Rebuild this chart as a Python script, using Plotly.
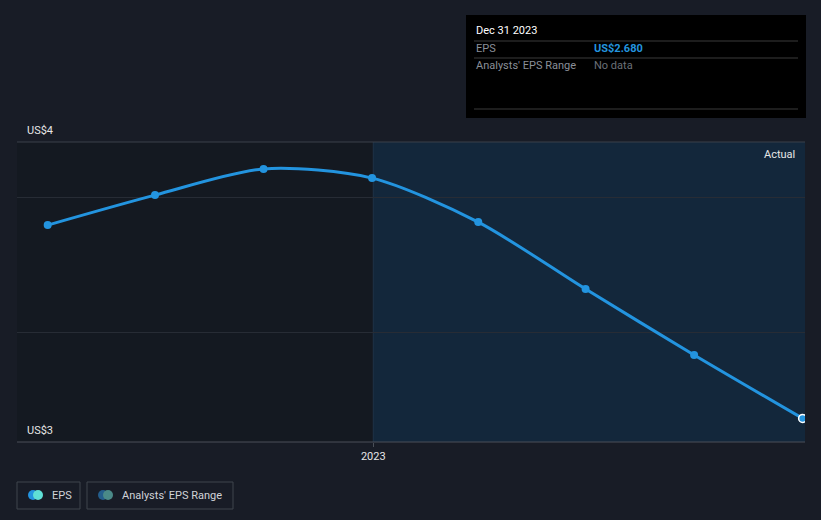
import plotly.graph_objects as go

# ---- data ----
dates = ["2022-03-31", "2022-06-30", "2022-09-30", "2022-12-31",
         "2023-03-31", "2023-06-30", "2023-09-30", "2023-12-31"]
eps = [3.396, 3.507, 3.604, 3.570, 3.407, 3.159, 2.915, 2.680]
y_tick_vals = [3.0, 3.5]
y_labels = ["US$4", "US$3"]
x_tick_vals = ["2023-01-01"]
x_tick_text = ["2023"]

W, H = 821, 520
L, R, T, B = 17, 805, 142, 442
y0, y1 = 2.5926, 3.7037
x0, x1 = "2022-03-05", "2024-01-02"

def px(x):
    return (x - L) / (R - L)

def py(y):
    return (B - y) / (B - T)

BLUE = "#2394df"
FONT = "Roboto, Arial, sans-serif"

fig = go.Figure()

fig.add_trace(go.Scatter(
    x=dates, y=eps, mode="lines+markers",
    line=dict(color=BLUE, width=3, shape="spline", smoothing=0.8),
    marker=dict(size=8, color=BLUE,
                line=dict(color=[BLUE] * (len(eps) - 1) + ["#ffffff"], width=[0] * (len(eps) - 1) + [1.5])),
    cliponaxis=True, hoverinfo="skip", showlegend=False,
))

shapes = []
# forecast/actual shaded region
shapes.append(dict(type="rect", xref="x", yref="paper", x0="2023-01-01", x1=x1, y0=0, y1=1,
                   fillcolor="#13273b", line=dict(width=0), layer="below"))
# vertical divider
shapes.append(dict(type="line", xref="x", yref="paper", x0="2023-01-01", x1="2023-01-01", y0=0, y1=1,
                   line=dict(color="#1f3347", width=1), layer="below"))
# top line
shapes.append(dict(type="line", xref="paper", yref="paper", x0=0, x1=1, y0=1, y1=1,
                   line=dict(color="#3a404a", width=1)))
# bottom axis line
shapes.append(dict(type="line", xref="paper", yref="paper", x0=0, x1=1, y0=0, y1=0,
                   line=dict(color="#4a4f58", width=1)))

# tooltip box
shapes.append(dict(type="rect", xref="paper", yref="paper", x0=px(466), x1=px(806), y0=py(118), y1=py(15),
                   fillcolor="#000000", line=dict(width=0)))
for yy in [41, 58, 109]:
    shapes.append(dict(type="line", xref="paper", yref="paper", x0=px(474), x1=px(798), y0=py(yy), y1=py(yy),
                       line=dict(color="#3a3a3a", width=1)))

# legend boxes
shapes.append(dict(type="rect", xref="paper", yref="paper", x0=px(17), x1=px(80), y0=py(509), y1=py(482),
                   line=dict(color="#3f444d", width=1), fillcolor="rgba(0,0,0,0)"))
shapes.append(dict(type="rect", xref="paper", yref="paper", x0=px(87), x1=px(233), y0=py(509), y1=py(482),
                   line=dict(color="#3f444d", width=1), fillcolor="rgba(0,0,0,0)"))

def circle(cx, cy, r, color):
    return dict(type="circle", xref="paper", yref="paper", x0=px(cx - r), x1=px(cx + r),
                y0=py(cy + r), y1=py(cy - r), fillcolor=color, line=dict(width=0))

shapes.append(circle(33, 495, 5, BLUE))
shapes.append(circle(38, 495, 5, "#5fe0d6"))
shapes.append(circle(103, 495, 5, "#245e8c"))
shapes.append(circle(108, 495, 5, "#4a8a88"))

annotations = []
def txt(x, y, s, color, size=11, anchor="left", bold=False):
    annotations.append(dict(xref="paper", yref="paper", x=px(x), y=py(y), text=("<b>%s</b>" % s) if bold else s,
                            showarrow=False, xanchor=anchor, yanchor="middle",
                            font=dict(family=FONT, size=size, color=color)))

txt(25, 130, y_labels[0], "#e6e6e6", 11)
txt(25, 430, y_labels[1], "#e6e6e6", 11)
txt(797, 154, "Actual", "#e6e6e6", 11, anchor="right")
txt(474, 31, "Dec 31 2023", "#ffffff", 11)
txt(474, 49, "EPS", "#8a8f98", 11)
txt(592, 49, "US$%.3f" % eps[-1], BLUE, 11, bold=True)
txt(474, 66, "Analysts' EPS Range", "#8a8f98", 11)
txt(592, 66, "No data", "#6b7078", 11)
txt(50, 495, "EPS", "#d0d3d8", 11)
txt(120, 495, "Analysts' EPS Range", "#d0d3d8", 11)

fig.update_layout(
    width=W, height=H,
    margin=dict(l=L, r=W - R, t=T, b=H - B, pad=0),
    paper_bgcolor="#181c26",
    plot_bgcolor="#141921",
    shapes=shapes, annotations=annotations,
    showlegend=False,
    xaxis=dict(range=[x0, x1], type="date", tickvals=x_tick_vals, ticktext=x_tick_text,
               showgrid=False, zeroline=False, showline=False,
               ticks="outside", ticklen=4, tickcolor="#4a4f58",
               tickfont=dict(family=FONT, size=11, color="#e6e6e6")),
    yaxis=dict(range=[y0, y1], tickvals=y_tick_vals, showticklabels=False,
               showgrid=True, gridcolor="#272c35", gridwidth=1, zeroline=False, showline=False),
)

fig.write_html("out.html")
